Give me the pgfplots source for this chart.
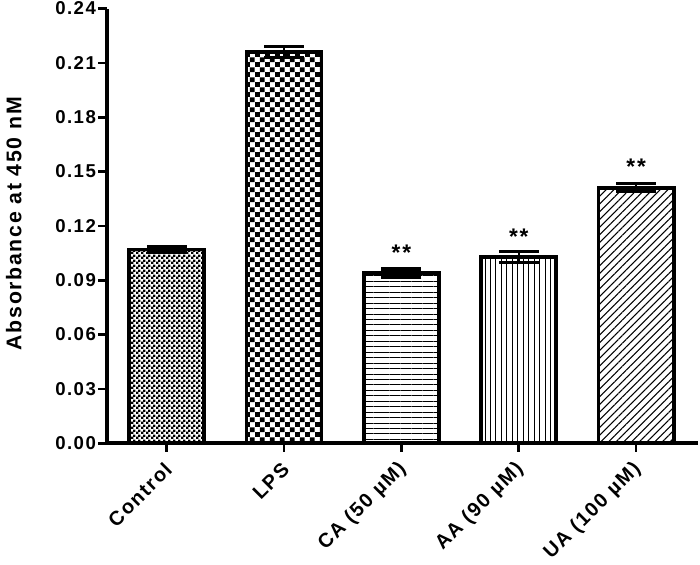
\documentclass[border=0pt]{standalone}
\usepackage{fontspec}
\setmainfont{Liberation Sans}
\newfontfamily\widefam{Liberation Sans}[LetterSpace=8]
\usepackage{pgfplots}
\pgfplotsset{compat=1.18}
\usetikzlibrary{patterns,patterns.meta}
\pgfdeclarepatternformonly{smallchecker}{\pgfpointorigin}{\pgfqpoint{3.8pt}{3.8pt}}{\pgfqpoint{3.8pt}{3.8pt}}{%
  \pgfpathrectangle{\pgfpointorigin}{\pgfqpoint{2.05pt}{2.05pt}}%
  \pgfpathrectangle{\pgfqpoint{1.9pt}{1.9pt}}{\pgfqpoint{2.05pt}{2.05pt}}%
  \pgfusepath{fill}}
\pgfdeclarepatternformonly{bigchecker}{\pgfpointorigin}{\pgfqpoint{7.4pt}{7.4pt}}{\pgfqpoint{7.4pt}{7.4pt}}{%
  \pgfpathrectangle{\pgfpointorigin}{\pgfqpoint{3.7pt}{3.7pt}}%
  \pgfpathrectangle{\pgfqpoint{3.7pt}{3.7pt}}{\pgfqpoint{3.7pt}{3.7pt}}%
  \pgfusepath{fill}}
\newcommand{\tickfont}{\widefam\fontsize{14}{16}\selectfont\bfseries}
\newcommand{\xtickfont}{\widefam\fontsize{15}{17}\selectfont\bfseries}
\newcommand{\starfont}{\widefam\fontsize{17}{19}\selectfont\bfseries}
\begin{document}
\begin{tikzpicture}
\begin{axis}[
  scale only axis,
  width=444.75pt, height=327pt,
  xmin=-0.51, xmax=4.527,
  ymin=0, ymax=0.24,
  axis x line=bottom, axis y line=left,
  axis line style={line width=3pt, -},
  /pgf/number format/fixed, /pgf/number format/fixed zerofill,
  /pgf/number format/precision=2, /pgf/number format/assume math mode=true,
  xtick={0,1,2,3,4},
  xticklabels={Control, LPS, CA (50 µM), AA (90 µM), UA (100 µM)},
  tick label style={font=\tickfont},
  xticklabel style={font=\xtickfont, xshift=2pt, yshift=-10pt, rotate=45, anchor=east, inner sep=1pt},
  ytick={0,0.03,0.06,0.09,0.12,0.15,0.18,0.21,0.24},
  yticklabel style={inner sep=1.5pt},
  tick align=outside,
  major tick length=6.5pt,
  tick style={line width=2pt, black},
  ylabel={Absorbance at 450 nM},
  every axis y label/.style={at={(axis description cs:-0.1574,0.505)}, rotate=90, anchor=center, inner xsep=0pt, inner ysep=4.5pt, font=\widefam\fontsize{16}{18}\selectfont\bfseries},
  clip=false,
  ybar, bar width=0.64, bar shift=0pt,
  every axis plot/.append style={draw=black, line width=2.8pt},
  error bars/y dir=both, error bars/y explicit,
  error bars/error bar style={line width=1.6pt, black},
  error bars/error mark options={rotate=90, mark size=15pt, line width=2.4pt, black},
]
\addplot[pattern=smallchecker, draw=black] coordinates {(0,0.107) +- (0,0.0015)};
\addplot[pattern=bigchecker, draw=black] coordinates {(1,0.216) +- (0,0.003)};
\addplot[pattern={Lines[angle=0, distance=4.1pt, line width=0.7pt]}, draw=black,
  nodes near coords={**}, every node near coord/.style={anchor=base, yshift=9.5pt, font=\starfont, line width=0pt}]
  coordinates {(2,0.094) +- (0,0.0022)};
\addplot[pattern={Lines[angle=90, distance=4.1pt, line width=0.7pt]}, draw=black,
  nodes near coords={**}, every node near coord/.style={anchor=base, yshift=9.5pt, font=\starfont, line width=0pt}]
  coordinates {(3,0.103) +- (0,0.003)};
\addplot[pattern={Lines[angle=45, distance=4.1pt, line width=0.8pt]}, draw=black,
  nodes near coords={**}, every node near coord/.style={anchor=base, yshift=10pt, font=\starfont, line width=0pt}]
  coordinates {(4,0.141) +- (0,0.0022)};
\end{axis}
\end{tikzpicture}
\end{document}
